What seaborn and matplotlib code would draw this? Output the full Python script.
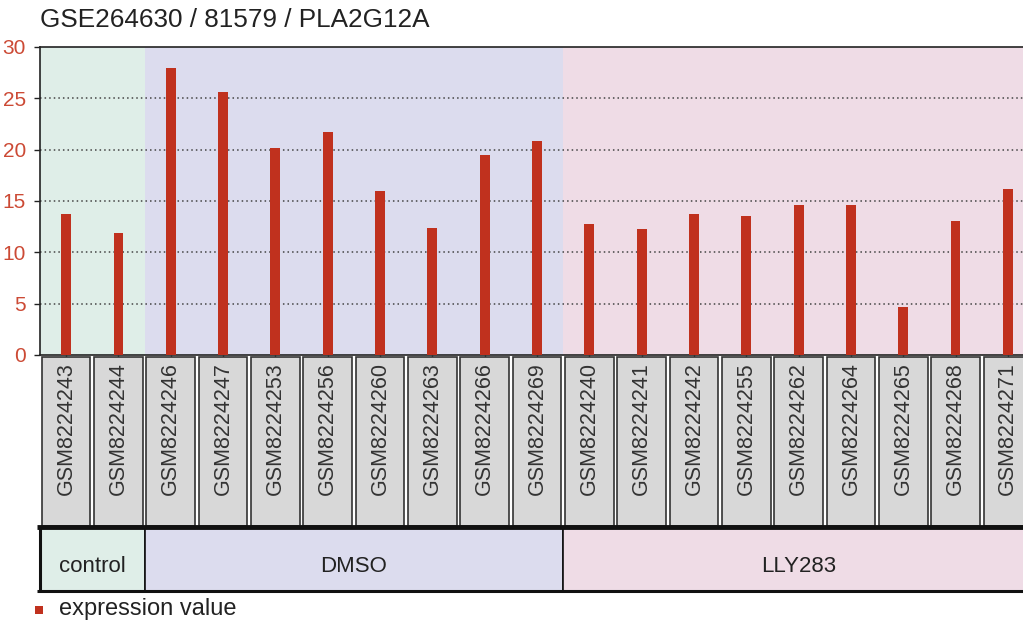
import matplotlib
matplotlib.use("Agg")
import matplotlib.pyplot as plt
import seaborn as sns
import pandas as pd
from matplotlib.patches import Rectangle

# Expression values per sample
samples = ["GSM8224243", "GSM8224244", "GSM8224246", "GSM8224247", "GSM8224253",
           "GSM8224256", "GSM8224260", "GSM8224263", "GSM8224266", "GSM8224269",
           "GSM8224240", "GSM8224241", "GSM8224242", "GSM8224255", "GSM8224262",
           "GSM8224264", "GSM8224265", "GSM8224268", "GSM8224271"]
values = [13.7, 11.9, 28.0, 25.6, 20.2, 21.7, 16.0, 12.4, 19.5, 20.8,
          12.8, 12.3, 13.7, 13.5, 14.6, 14.6, 4.7, 13.1, 16.2]
groups = ["control"] * 2 + ["DMSO"] * 8 + ["LLY283"] * 9
group_names = ["control", "DMSO", "LLY283"]
y_ticks = [0, 5, 10, 15, 20, 25, 30]
title = "GSE264630 / 81579 / PLA2G12A"
legend_label = "expression value"

group_colors = {"control": "#dfeee8", "DMSO": "#dcdcee", "LLY283": "#efdce6"}
bar_color = "#c0311e"
tick_color = "#cc4a35"

sns.set_theme(style="white")
plt.rcParams["font.family"] = ["Liberation Sans", "DejaVu Sans"]

W_PX, H_PX = 1023, 625
fig = plt.figure(figsize=(W_PX / 100, H_PX / 100), dpi=100)


def fx(px):
    return px / W_PX


def fy(px):
    return 1 - px / H_PX


left_px, right_px = 40, 1034
plot_top, plot_bot = 47, 355
ax = fig.add_axes([fx(left_px), fy(plot_bot), fx(right_px - left_px),
                   (plot_bot - plot_top) / H_PX])

n = len(samples)
# group spans (contiguous runs)
spans = []
start = 0
for i in range(1, n + 1):
    if i == n or groups[i] != groups[start]:
        spans.append((groups[start], start, i - 1))
        start = i

for g, a, b in spans:
    ax.axvspan(a - 0.5, b + 0.5, color=group_colors[g], zorder=0, lw=0)

for y in y_ticks[1:-1]:
    ax.axhline(y, ls=(0, (1, 2)), color="#444444", lw=1.1, zorder=1)

df = pd.DataFrame({"sample": samples, "value": values})
sns.barplot(data=df, x="sample", y="value", order=samples, color=bar_color,
            saturation=1, width=0.19, ax=ax, zorder=3, linewidth=0)

ax.set_xlim(-0.5, n - 0.5)
ax.set_ylim(0, 30)
ax.set_yticks(y_ticks)
ax.set_yticklabels([str(t) for t in y_ticks], color=tick_color, fontsize=15)
ax.set_xlabel("")
ax.set_ylabel("")
ax.tick_params(axis="y", length=4, width=1, color="#222222", pad=6, left=True)
ax.tick_params(axis="x", length=3, width=1, color="#222222", bottom=True,
               labelbottom=False)
for side in ["top", "left", "bottom"]:
    ax.spines[side].set_visible(True)
    ax.spines[side].set_color("#222222")
    ax.spines[side].set_linewidth(1.2)
ax.spines["right"].set_visible(False)

fig.text(fx(40), fy(20), title, fontsize=18.8, color="#222222",
         ha="left", va="center")

# Sample name boxes
sax = fig.add_axes([fx(left_px), fy(526), fx(right_px - left_px), 169 / H_PX])
sax.set_xlim(-0.5, n - 0.5)
sax.set_ylim(0, 1)
sax.axis("off")
gap = 0.035
for i, s in enumerate(samples):
    sax.add_patch(Rectangle((i - 0.5 + gap, 0), 1 - 2 * gap, 1,
                            facecolor="#d8d8d8", edgecolor="#333333", lw=1.2,
                            clip_on=False))
    sax.text(i, 1 - 5 / 169, s, rotation=90, ha="center", va="top",
             fontsize=15.5, color="#333333")

# Group band
gax = fig.add_axes([fx(left_px), fy(591), fx(right_px - left_px), 64 / H_PX])
gax.set_xlim(-0.5, n - 0.5)
gax.set_ylim(0, 1)
gax.axis("off")
for g, a, b in spans:
    gax.add_patch(Rectangle((a - 0.5, 0), b - a + 1, 1,
                            facecolor=group_colors[g], edgecolor="#111111",
                            lw=1.2, clip_on=False))
    gax.text((a + b) / 2, 0.38, g, ha="center", va="center", fontsize=16,
             color="#222222")
gax.plot([-0.55, n], [1, 1], color="#111111", lw=3.5, clip_on=False,
         solid_capstyle="butt")
gax.plot([-0.55, n], [0, 0], color="#111111", lw=2.2, clip_on=False,
         solid_capstyle="butt")
gax.plot([-0.5, -0.5], [0, 1], color="#111111", lw=2.2, clip_on=False)

# Legend
fig.patches.append(Rectangle((fx(35), fy(614)), fx(8), 8 / H_PX,
                             transform=fig.transFigure, facecolor=bar_color,
                             edgecolor="none"))
fig.text(fx(59), fy(609), legend_label, fontsize=17, color="#222222",
         ha="left", va="center")

fig.savefig("out.png", dpi=100)
